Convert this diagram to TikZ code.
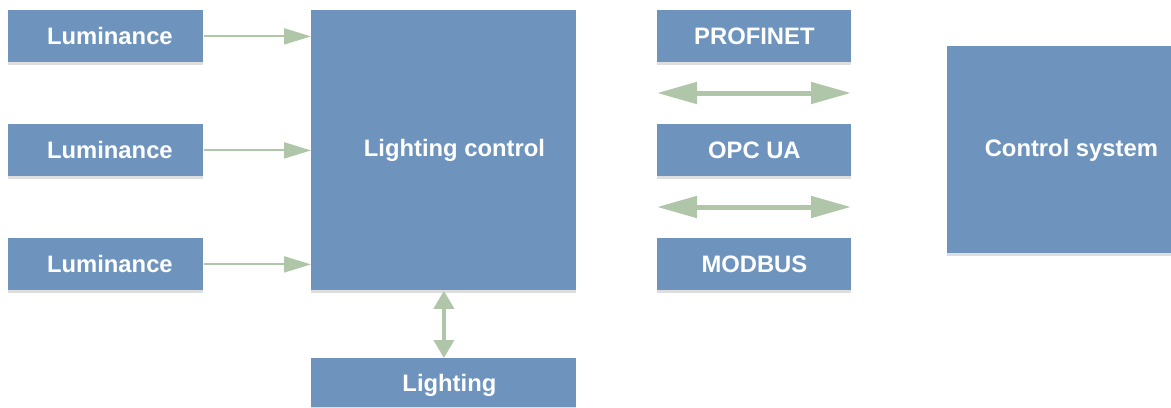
\documentclass[tikz,border=0pt]{standalone}
\usepackage{fontspec}
\setmainfont{Liberation Sans}
\usetikzlibrary{arrows.meta,shadows}
\definecolor{boxblue}{RGB}{110,148,190}
\definecolor{arrgreen}{RGB}{176,198,168}
\definecolor{shadowgray}{RGB}{222,222,222}
\tikzset{
  box/.style={fill=boxblue, draw=none, inner sep=0pt, anchor=north west,
    drop shadow={shadow xshift=0pt, shadow yshift=-1.5pt, fill=shadowgray, opacity=1}},
  smallbox/.style={box, minimum width=97.5pt, minimum height=26pt},
  txt/.style={text=white, font=\fontsize{11.9pt}{14pt}\selectfont\bfseries,
    inner sep=0pt, text height=8.5pt, text depth=0pt},
  sarrow/.style={draw=arrgreen, line width=1pt,
    -{Triangle[length=13.5pt,width=8pt,fill=arrgreen]}},
  darrow/.style={draw=arrgreen, line width=2.5pt,
    {Triangle[length=20pt,width=10.5pt,fill=arrgreen]}-{Triangle[length=20pt,width=10.5pt,fill=arrgreen]}},
  varrow/.style={draw=arrgreen, line width=2pt,
    {Triangle[length=9pt,width=10pt,fill=arrgreen]}-{Triangle[length=9pt,width=10pt,fill=arrgreen]}},
}
\begin{document}
\begin{tikzpicture}[x=0.5pt,y=-0.5pt]
\useasboundingbox (0,0) rectangle (1171,407);
% sensor boxes
\node[smallbox, label={[txt,xshift=2pt]center:Luminance}] (lum1) at (8,10) {};
\node[smallbox, label={[txt,xshift=2pt]center:Luminance}] (lum2) at (8,124) {};
\node[smallbox, label={[txt,xshift=2pt]center:Luminance}] (lum3) at (8,238) {};
% lighting control
\node[box, minimum width=132.5pt, minimum height=140pt,
  label={[txt,xshift=5.25pt,yshift=1pt]center:Lighting control}] (lc) at (311,10) {};
% lighting
\node[box, minimum width=132.5pt, minimum height=24.5pt,
  label={[txt,xshift=2.75pt]center:Lighting}] (light) at (311,358) {};
% protocols
\node[smallbox, minimum width=97pt, label={[txt]center:PROFINET}] (prof) at (657,10) {};
\node[smallbox, minimum width=97pt, label={[txt]center:OPC UA}] (opc) at (657,124) {};
\node[smallbox, minimum width=97pt, label={[txt]center:MODBUS}] (mod) at (657,238) {};
% control system
\node[box, minimum width=112pt, minimum height=103.5pt,
  label={[txt,xshift=6pt,yshift=0.75pt]center:Control system}] (cs) at (947,46) {};
% arrows
\draw[sarrow] (lum1.east) -- (lc.west |- lum1.east);
\draw[sarrow] (lum2.east) -- (lc.west |- lum2.east);
\draw[sarrow] (lum3.east) -- (lc.west |- lum3.east);
\draw[varrow] (lc.south) -- (light.north);
\coordinate (d1l) at (657,93);
\coordinate (d1r) at (851,93);
\coordinate (d2l) at (657,207);
\coordinate (d2r) at (851,207);
\draw[darrow] (d1l) -- (d1r);
\draw[darrow] (d2l) -- (d2r);
\end{tikzpicture}
\end{document}
